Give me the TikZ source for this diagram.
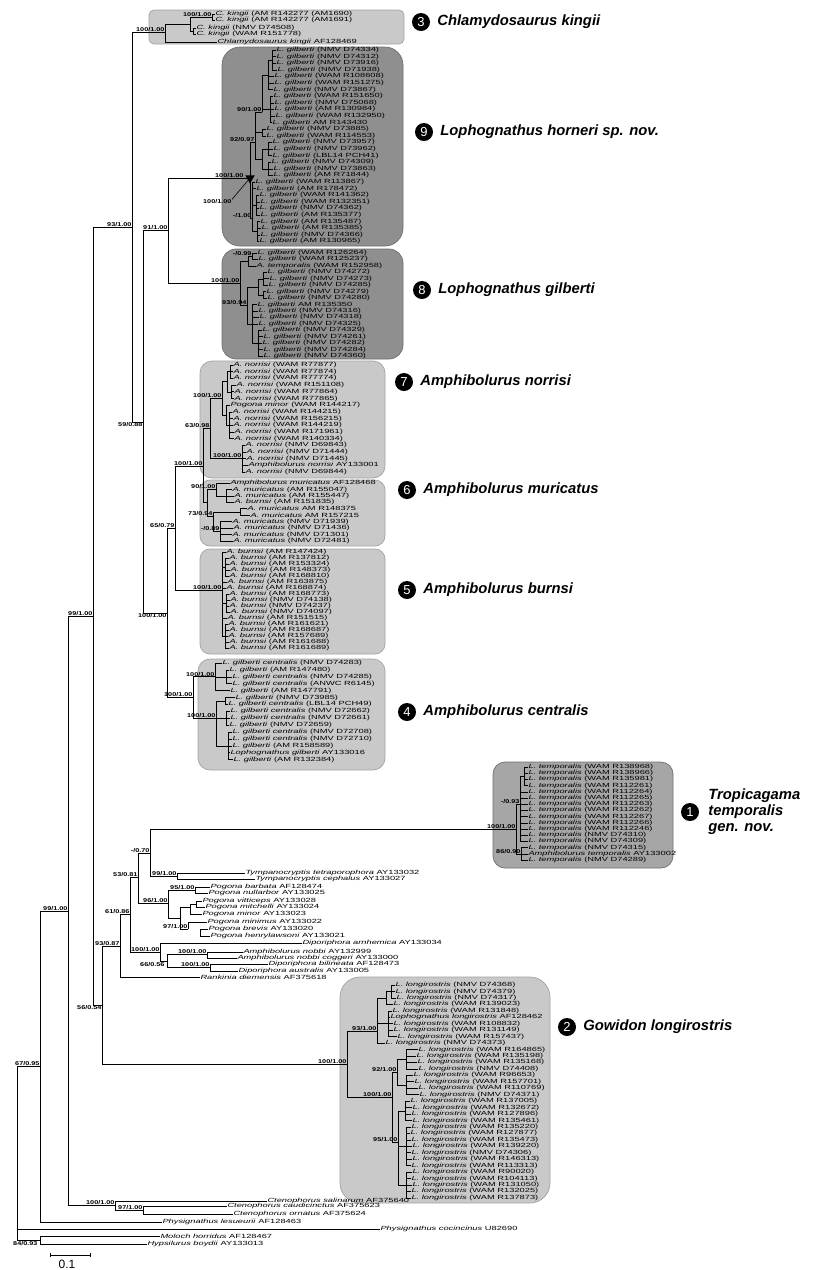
\documentclass[tikz,border=0pt]{standalone}
\usepackage{fontspec}
\setmainfont{Liberation Sans}
\newfontfamily\tipfam[FakeStretch=1.55]{Liberation Sans}
\newfontfamily\supfam[FakeStretch=1.3]{Liberation Sans}
\usetikzlibrary{positioning,shapes.geometric}
\definecolor{boxlight}{HTML}{C9C9C9}
\definecolor{boxline}{HTML}{A2A2A2}
\definecolor{boxdark}{HTML}{8F8F8F}
\definecolor{boxdarkline}{HTML}{6F6F6F}
\definecolor{boxmid}{HTML}{A6A6A6}
\newcommand\Tkin{\textit{C. kingii}}
\newcommand\Tgil{\textit{L. gilberti}}
\newcommand\Tcen{\textit{L. gilberti centralis}}
\newcommand\Tnor{\textit{A. norrisi}}
\newcommand\Tmur{\textit{A. muricatus}}
\newcommand\Tbur{\textit{A. burnsi}}
\newcommand\Ttem{\textit{L. temporalis}}
\newcommand\Tlon{\textit{L. longirostris}}
\begin{document}
\begin{tikzpicture}[x=1pt,y=-1pt,
  tip/.style={anchor=west,inner sep=0.3pt,font=\tipfam\fontsize{6}{6}\selectfont},
  sup/.style={anchor=south east,inner sep=0.3pt,font=\supfam\fontsize{5.6}{5.6}\selectfont\bfseries},
  supb/.style={sup,anchor=north east},
  num/.style={circle,fill=black,text=white,inner sep=0pt,minimum size=18pt,font=\fontsize{13}{13}\selectfont},
  taxon/.style={anchor=west,inner sep=0pt,align=left,font=\fontsize{14.8}{16}\selectfont\bfseries\itshape},
  branch/.style={line width=0.8pt},
  twig/.style={line width=0.6pt},
  lightbox/.style={fill=boxlight,draw=boxline,line width=0.7pt},
  darkbox/.style={fill=boxdark,draw=boxdarkline,line width=0.7pt},
  midbox/.style={fill=boxmid,draw=boxdarkline,line width=0.7pt}
]
\useasboundingbox (0,0) rectangle (814,1270);

\path[lightbox,rounded corners=5pt] (149,10) rectangle (404,44);
\path[darkbox,rounded corners=18pt] (222,47) rectangle (403,246);
\path[darkbox,rounded corners=14pt] (222,249) rectangle (403,359);
\path[lightbox,rounded corners=12pt] (200,361) rectangle (385,478);
\path[lightbox,rounded corners=10pt] (200,480) rectangle (385,546);
\path[lightbox,rounded corners=10pt] (200,549) rectangle (385,654);
\path[lightbox,rounded corners=12pt] (198,659) rectangle (385,770);
\path[midbox,rounded corners=12pt] (493,762) rectangle (673,868);
\path[lightbox,rounded corners=20pt] (340,977) rectangle (550,1203);

\coordinate (root) at (17,1153);
\coordinate (n67) at (40,1066);
\coordinate (n99b) at (68,911);
\coordinate (n99a) at (93,616);
\coordinate (n93) at (132,227);
\coordinate (n59) at (143,422);
\coordinate (n91) at (168,230);
\coordinate (n100c) at (167,613);
\coordinate (n65) at (175,528);
\coordinate (n100d) at (203,466);
\coordinate (ncen) at (193,697);
\coordinate (n56) at (102,1005);
\coordinate (n93b) at (120,946);
\coordinate (n61) at (130,914);
\coordinate (n53) at (138,877);
\coordinate (n70) at (150,853);
\coordinate (ntym) at (177,876);
\coordinate (npog) at (168,903);
\coordinate (ndip) at (160,952);
\coordinate (ncte) at (115,1205);
\coordinate (ncte2) at (143,1210);
\coordinate (n84) at (40,1240);

\coordinate (ch) at (165,32);
\coordinate (cha) at (190,24);
\coordinate (chb) at (212,17);
\coordinate (chc) at (193,31);

\coordinate (ho) at (250,178);
\coordinate (hoA) at (255,142);
\coordinate (hoA1) at (262,112);
\coordinate (hoA1a) at (268,75);
\coordinate (hoa1) at (272,60);
\coordinate (hoA1b) at (270,109);
\coordinate (hoP) at (262,132.5);
\coordinate (hoA2) at (262,159);
\coordinate (hoa3) at (268,149);
\coordinate (hoa4) at (268,168.8);
\coordinate (hoB) at (252,218);
\coordinate (hob1) at (256,205);
\coordinate (hob2) at (257,231.5);

\coordinate (gi) at (240,283);
\coordinate (giT) at (248,261);
\coordinate (gi99) at (252,256.2);
\coordinate (giG) at (247,305);
\coordinate (gia) at (258,287);
\coordinate (gis1) at (263,278.8);
\coordinate (gis2) at (263,294.9);
\coordinate (gib) at (252,324);
\coordinate (gis3) at (258,343);

\coordinate (no) at (210,428.5);
\coordinate (noN1) at (222,398.4);
\coordinate (noa) at (227,381.7);
\coordinate (noa1) at (230,371.7);
\coordinate (noa2) at (231,391.8);
\coordinate (nob) at (226,415);
\coordinate (nob1) at (229,425.2);
\coordinate (noN2) at (242,458.6);

\coordinate (mu) at (207,502.7);
\coordinate (muM1) at (216,489.4);
\coordinate (mum1) at (226,495.9);
\coordinate (muM2) at (213,516);
\coordinate (mum2) at (240,512);
\coordinate (mum3) at (220,531.3);

\coordinate (bu) at (222,590);
\coordinate (bus1) at (225,567);
\coordinate (bus2) at (226,603);
\coordinate (bus3) at (225,636);

\coordinate (ce1) at (215,676.8);
\coordinate (ce1a) at (226,676.8);
\coordinate (ce2) at (216,718);
\coordinate (ce2a) at (225,701);
\coordinate (ce2b) at (226,718.2);
\coordinate (ce2c) at (228,745.8);

\coordinate (tr) at (516,829);
\coordinate (tru) at (520,804.2);
\coordinate (tru1) at (524,776.3);
\coordinate (trl) at (521,853.8);

\coordinate (pa) at (195,890);
\coordinate (pb) at (180,918);
\coordinate (pc) at (190,907.5);
\coordinate (pe) at (196,904);
\coordinate (pd) at (188,929);
\coordinate (pf) at (200,932.5);
\coordinate (d1) at (167,961);
\coordinate (dam) at (207,954.5);
\coordinate (ddp) at (210,967.5);

\coordinate (go) at (347,1064);
\coordinate (go1) at (377,1031);
\coordinate (go1a) at (386,998);
\coordinate (go1s) at (391,991.5);
\coordinate (go1b) at (388,1023.7);
\coordinate (go2) at (392,1097);
\coordinate (go2a) at (397,1072.1);
\coordinate (go2a1) at (406,1059.2);
\coordinate (go2a2) at (406,1085);
\coordinate (go2b) at (398,1142);
\coordinate (go2b1) at (405,1110.8);
\coordinate (go2b2) at (406,1146.3);
\coordinate (go2b3) at (406,1185);

\node[tip] (chl) at (217,42) {\textit{Chlamydosaurus kingii} AF128469};
\node[tip] (tte) at (245,873) {\textit{Tympanocryptis tetraporophora} AY133032};
\node[tip] (tce) at (255,879) {\textit{Tympanocryptis cephalus} AY133027};
\node[tip] (darn) at (302,943) {\textit{Diporiphora arnhemica} AY133034};
\node[tip] (anob) at (243,952) {\textit{Amphibolurus nobbi} AY132999};
\node[tip] (acog) at (237,958) {\textit{Amphibolurus nobbi coggeri} AY133000};
\node[tip] (dbil) at (268,964) {\textit{Diporiphora bilineata} AF128473};
\node[tip] (daus) at (238,971) {\textit{Diporiphora australis} AY133005};
\node[tip] (rdie) at (200,977) {\textit{Rankinia diemensis} AF375618};
\node[tip] (csal) at (267,1201) {\textit{Ctenophorus salinarum} AF375640};
\node[tip] (ccau) at (227,1206) {\textit{Ctenophorus caudicinctus} AF375623};
\node[tip] (corn) at (233,1214) {\textit{Ctenophorus ornatus} AF375624};
\node[tip] (ples) at (162,1222) {\textit{Physignathus lesueurii} AF128463};
\node[tip] (pcoc) at (380,1229) {\textit{Physignathus cocincinus} U82690};
\node[tip] (mhor) at (160,1236) {\textit{Moloch horridus} AF128467};
\node[tip] (hboy) at (147,1244) {\textit{Hypsilurus boydii} AY133013};

\foreach \p/\x/\y/\t [count=\i] in {chb/215/14/{(AM R142277 (AM1690)}, chb/215/20/{(AM R142277 (AM1691)},
    chc/196/28/{(NMV D74508)}, chc/196/34/{(WAM R151778)}}
  {\node[tip] (kg-\i) at (\x,\y) {\Tkin{} \t};
   \draw[twig] (\p) |- (kg-\i.west);}

\foreach \p/\x/\t [count=\i] in {
    hoa1/276/{(NMV D74334)}, hoa1/276/{(NMV D74312)}, hoa1/276/{(NMV D73916)}, hoa1/277/{(NMV D71938)},
    hoA1a/274/{(WAM R108608)}, hoA1a/274/{(WAM R151275)}, hoA1a/273/{(NMV D73867)},
    hoA1b/273/{(WAM R151650)}, hoA1b/274/{(NMV D75068)}, hoA1b/274/{(AM R130984)}, hoA1b/275/{(WAM R132950)}, hoA1b/272/{AM R143430},
    hoP/266/{(NMV D73885)}, hoP/266/{(WAM R114553)},
    hoa3/272/{(NMV D73957)}, hoa3/273/{(NMV D73962)}, hoa3/272/{(LBL14 PCH41)},
    hoa4/271/{(NMV D74309)}, hoa4/273/{(NMV D73863)}, hoa4/273/{(AM R71844)},
    hoB/255/{(WAM R113867)}, hoB/256/{(AM R178472)},
    hob1/259/{(WAM R141362)}, hob1/260/{(WAM R132351)}, hob1/259/{(NMV D74362)}, hob1/260/{(AM R135377)},
    hob2/260/{(AM R135487)}, hob2/261/{(AM R135385)}, hob2/260/{(NMV D74366)}, hob2/259/{(AM R130965)}}
  {\node[tip] (ho-\i) at (\x,{50+6.6*(\i-1)}) {\Tgil{} \t};
   \draw[twig] (\p) |- (ho-\i.west);}

\foreach \p/\x/\t [count=\i] in {
    gi99/257/{\Tgil{} (WAM R126264)}, gi99/258/{\Tgil{} (WAM R125237)}, giT/256/{\textit{A. temporalis} (WAM R152958)},
    gis1/267/{\Tgil{} (NMV D74272)}, gis1/269/{\Tgil{} (NMV D74273)}, gis1/268/{\Tgil{} (NMV D74285)},
    gis2/266/{\Tgil{} (NMV D74279)}, gis2/267/{\Tgil{} (NMV D74280)},
    gib/257/{\Tgil{} AM R135350}, gib/258/{\Tgil{} (NMV D74316)}, gib/259/{\Tgil{} (NMV D74318)}, gib/258/{\Tgil{} (NMV D74325)},
    gis3/262/{\Tgil{} (NMV D74329)}, gis3/263/{\Tgil{} (NMV D74261)}, gis3/262/{\Tgil{} (NMV D74282)},
    gis3/263/{\Tgil{} (NMV D74284)}, gis3/263/{\Tgil{} (NMV D74360)}}
  {\node[tip] (gi-\i) at (\x,{253+6.44*(\i-1)}) {\t};
   \draw[twig] (\p) |- (gi-\i.west);}

\foreach \p/\x/\t [count=\i] in {
    noa1/233/{\Tnor{} (WAM R77877)}, noa1/233/{\Tnor{} (WAM R77874)}, noa1/233/{\Tnor{} (WAM R77774)},
    noa2/236/{\Tnor{} (WAM R151108)}, noa2/234/{\Tnor{} (WAM R77864)}, noa2/234/{\Tnor{} (WAM R77865)},
    nob/230/{\textit{Pogona minor} (WAM R144217)},
    nob1/232/{\Tnor{} (WAM R144215)}, nob1/233/{\Tnor{} (WAM R156215)}, nob1/233/{\Tnor{} (WAM R144219)},
    nob1/234/{\Tnor{} (WAM R171961)}, nob1/234/{\Tnor{} (WAM R140334)},
    noN2/245/{\Tnor{} (NMV D69843)}, noN2/246/{\Tnor{} (NMV D71444)}, noN2/246/{\Tnor{} (NMV D71445)},
    noN2/248/{\textit{Amphibolurus norrisi} AY133001}, noN2/245/{\Tnor{} (NMV D69844)}}
  {\node[tip] (no-\i) at (\x,{365+6.69*(\i-1)}) {\t};
   \draw[twig] (\p) |- (no-\i.west);}

\foreach \p/\x/\t [count=\i] in {
    muM1/230/{\textit{Amphibolurus muricatus} AF128468}, mum1/232/{\Tmur{} (AM R155047)},
    mum1/234/{\Tmur{} (AM R155447)}, mum1/234/{\textit{A. burnsi} (AM R151835)},
    mum2/247/{\Tmur{} AM R148375}, mum2/250/{\Tmur{} AM R157215},
    mum3/232/{\Tmur{} (NMV D71939)}, mum3/233/{\Tmur{} (NMV D71436)}, mum3/232/{\Tmur{} (NMV D71301)}, mum3/233/{\Tmur{} (NMV D72481)}}
  {\node[tip] (mu-\i) at (\x,{483+6.44*(\i-1)}) {\t};
   \draw[twig] (\p) |- (mu-\i.west);}

\foreach \p/\x/\t [count=\i] in {
    bu/226/{(AM R147424)}, bus1/229/{(AM R137812)}, bus1/229/{(AM R153324)}, bus1/230/{(AM R148373)}, bus1/229/{(AM R168810)},
    bu/227/{(AM R163875)}, bu/226/{(AM R168874)}, bus2/229/{(AM R168773)}, bus2/230/{(NMV D74138)}, bus2/229/{(NMV D74237)},
    bus2/230/{(NMV D74097)}, bu/227/{(AM R151515)}, bus3/228/{(AM R161621)}, bus3/229/{(AM R168687)}, bus3/228/{(AM R157689)},
    bus3/229/{(AM R161688)}, bus3/229/{(AM R161689)}}
  {\node[tip] (bu-\i) at (\x,{552+6*(\i-1)}) {\Tbur{} \t};
   \draw[twig] (\p) |- (bu-\i.west);}

\foreach \p/\x/\t [count=\i] in {
    ce1/222/{\Tcen{} (NMV D74283)}, ce1a/229/{\Tgil{} (AM R147480)}, ce1a/232/{\Tcen{} (NMV D74285)},
    ce1a/232/{\Tcen{} (ANWC R6145)}, ce1/230/{\Tgil{} (AM R147791)},
    ce2a/235/{\Tgil{} (NMV D73985)}, ce2a/228/{\Tcen{} (LBL14 PCH49)},
    ce2b/230/{\Tcen{} (NMV D72662)}, ce2b/230/{\Tcen{} (NMV D72661)}, ce2b/229/{\Tgil{} (NMV D72659)},
    ce2c/232/{\Tcen{} (NMV D72708)}, ce2c/232/{\Tcen{} (NMV D72710)}, ce2c/232/{\Tgil{} (AM R158589)},
    ce2c/230/{\textit{Lophognathus gilberti} AY133016}, ce2c/233/{\Tgil{} (AM R132384)}}
  {\node[tip] (ce-\i) at (\x,{663+6.9*(\i-1)}) {\t};
   \draw[twig] (\p) |- (ce-\i.west);}

\foreach \p/\t [count=\i] in {
    tru1/{\Ttem{} (WAM R138968)}, tru1/{\Ttem{} (WAM R138966)}, tru1/{\Ttem{} (WAM R135981)}, tru1/{\Ttem{} (WAM R112261)},
    tru/{\Ttem{} (WAM R112264)}, tru/{\Ttem{} (WAM R112265)}, tru/{\Ttem{} (WAM R112263)}, tru/{\Ttem{} (WAM R112262)},
    tru/{\Ttem{} (WAM R112267)}, tru/{\Ttem{} (WAM R112266)}, tru/{\Ttem{} (WAM R112246)}, tru/{\Ttem{} (NMV D74310)},
    tru/{\Ttem{} (NMV D74309)}, trl/{\Ttem{} (NMV D74315)}, trl/{\textit{Amphibolurus temporalis} AY133002},
    trl/{\Ttem{} (NMV D74289)}}
  {\node[tip] (tr-\i) at (528,{767+6.2*(\i-1)}) {\t};
   \draw[twig] (\p) |- (tr-\i.west);}

\foreach \p/\x/\t [count=\i] in {
    go1s/395/{\Tlon{} (NMV D74368)}, go1s/395/{\Tlon{} (NMV D74379)}, go1s/396/{\Tlon{} (NMV D74317)},
    go1a/393/{\Tlon{} (WAM R139023)}, go1b/392/{\Tlon{} (WAM R131848)},
    go1b/390/{\textit{Lophognathus longirostris} AF128462}, go1b/393/{\Tlon{} (WAM R108832)},
    go1b/393/{\Tlon{} (WAM R131149)}, go1b/397/{\Tlon{} (WAM R157437)}, go1/385/{\Tlon{} (NMV D74373)},
    go2a1/418/{\Tlon{} (WAM R164865)}, go2a1/416/{\Tlon{} (WAM R135198)}, go2a1/417/{\Tlon{} (WAM R135168)},
    go2a1/418/{\Tlon{} (NMV D74408)}, go2a2/413/{\Tlon{} (WAM R96653)}, go2a2/414/{\Tlon{} (WAM R157701)},
    go2a2/418/{\Tlon{} (WAM R110769)}, go2a2/419/{\Tlon{} (NMV D74371)},
    go2b1/410/{\Tlon{} (WAM R137005)}, go2b1/412/{\Tlon{} (WAM R132672)}, go2b1/411/{\Tlon{} (WAM R127896)},
    go2b1/412/{\Tlon{} (WAM R135461)}, go2b2/411/{\Tlon{} (WAM R135220)}, go2b2/410/{\Tlon{} (WAM R127877)},
    go2b2/411/{\Tlon{} (WAM R135473)}, go2b2/412/{\Tlon{} (WAM R139220)}, go2b2/411/{\Tlon{} (NMV D74306)},
    go2b2/412/{\Tlon{} (WAM R146313)}, go2b2/411/{\Tlon{} (WAM R113313)}, go2b3/412/{\Tlon{} (WAM R90020)},
    go2b3/411/{\Tlon{} (WAM R104113)}, go2b3/412/{\Tlon{} (WAM R131050)}, go2b3/411/{\Tlon{} (WAM R132025)},
    go2b3/411/{\Tlon{} (WAM R137873)}}
  {\node[tip] (go-\i) at (\x,{985+6.45*(\i-1)}) {\t};
   \draw[twig] (\p) |- (go-\i.west);}

\foreach \p/\x/\y/\s/\a in {pa/210/887/barbata/AF128474, pa/208/893/nullarbor/AY133025,
    pe/202/901/vitticeps/AY133028, pe/205/907/mitchelli/AY133024, pc/202/914/minor/AY133023,
    pd/207/922/minimus/AY133022, pf/208/929/brevis/AY133020, pf/210/936/henrylawsoni/AY133021}
  {\node[tip] (pog-\s) at (\x,\y) {\textit{Pogona \s} \a};
   \draw[twig] (\p) |- (pog-\s.west);}

\draw[branch] (root) |- (n67) (root) |- (pcoc.west) (root) |- (n84)
  (n67) |- (n99b) (n67) |- (ples.west)
  (n99b) |- (n99a) (n99b) |- (ncte)
  (n99a) |- (n93) (n99a) |- (n56)
  (n93) |- (ch) (n93) |- (n59)
  (n59) |- (n91) (n59) |- (n100c)
  (n91) |- (ho) (n91) |- (gi)
  (n100c) |- (n65) (n100c) |- (ncen)
  (n65) |- (n100d) (n65) |- (bu)
  (n100d) |- (no) (n100d) |- (mu)
  (ncen) |- (ce1) (ncen) |- (ce2)
  (n56) |- (n93b) (n56) |- (go)
  (n93b) |- (n61) (n93b) |- (rdie.west)
  (n61) |- (n53) (n61) |- (ndip)
  (n53) |- (n70) (n53) |- (npog)
  (n70) |- (tr) (n70) |- (ntym)
  (ncte) |- (csal.west) (ncte) |- (ncte2)
  (ncte2) |- (ccau.west) (ncte2) |- (corn.west)
  (n84) |- (mhor.west) (n84) |- (hboy.west);
\draw[twig] (ntym) |- (tte.west) (ntym) |- (tce.west)
  (npog) |- (pa) (npog) |- (pb) (pb) |- (pc) (pb) |- (pd) (pc) |- (pe)
  (ndip) |- (darn.west) (ndip) |- (d1) (d1) |- (dam) (d1) |- (ddp)
  (dam) |- (anob.west) (dam) |- (acog.west) (ddp) |- (dbil.west) (ddp) |- (daus.west);
\draw[twig] (ch) |- (cha) (ch) |- (chl.west) (cha) |- (chb) (cha) |- (chc);
\draw[twig] (ho) |- (hoA) (ho) |- (hoB) (hoA) |- (hoA1) (hoA) |- (hoP) (hoA) |- (hoA2)
  (hoA1) |- (hoA1a) (hoA1) |- (hoA1b) (hoA1a) |- (hoa1) (hoA2) |- (hoa3) (hoA2) |- (hoa4)
  (hoB) |- (hob1) (hoB) |- (hob2);
\draw[twig] (gi) |- (giT) (gi) |- (giG) (giT) |- (gi99) (giG) |- (gia) (giG) |- (gib)
  (gia) |- (gis1) (gia) |- (gis2) (gib) |- (gis3);
\draw[twig] (no) |- (noN1) (no) |- (noN2) (noN1) |- (noa) (noN1) |- (nob)
  (noa) |- (noa1) (noa) |- (noa2) (nob) |- (nob1);
\draw[twig] (mu) |- (muM1) (mu) |- (muM2) (muM1) |- (mum1) (muM2) |- (mum2) (muM2) |- (mum3);
\draw[twig] (bu) |- (bus1) (bu) |- (bus2) (bu) |- (bus3);
\draw[twig] (ce1) |- (ce1a) (ce2) |- (ce2a) (ce2) |- (ce2b) (ce2) |- (ce2c);
\draw[twig] (tr) |- (tru) (tr) |- (trl) (tru) |- (tru1);
\draw[twig] (go) |- (go1) (go) |- (go2) (go1) |- (go1a) (go1) |- (go1b) (go1a) |- (go1s)
  (go2) |- (go2a) (go2) |- (go2b) (go2a) |- (go2a1) (go2a) |- (go2a2)
  (go2b) |- (go2b1) (go2b) |- (go2b2) (go2b) |- (go2b3);

\node[regular polygon,regular polygon sides=3,shape border rotate=180,fill=black,inner sep=0pt,minimum size=11pt] (tri9) at (ho) {};

\node[sup] (l3) at (ch) {100/1.00};
\node[sup] (l3b) at (chb) {100/1.00};
\node[sup] (l93) at (n93) {93/1.00};
\node[supb] (l59) at (n59) {59/0.88};
\node[sup] (l91) at (n91) {91/1.00};
\node[sup] (l9) at (244,178) {100/1.00};
\node[sup,anchor=east] (l9b) at (232,202) {100/1.00};
\draw[twig] (l9b.north east) -- (tri9);
\node[sup] (lhoA) at (hoA) {92/0.97};
\node[sup] (lhoA1) at (hoA1) {90/1.00};
\node[sup] (lhoB) at (hoB) {-/1.00};
\node[sup] (l8) at (gi) {100/1.00};
\node[sup] (lgi99) at (gi99) {-/0.99};
\node[sup] (lgiG) at (giG) {93/0.94};
\node[sup] (l99a) at (n99a) {99/1.00};
\node[supb] (l100c) at (n100c) {100/1.00};
\node[sup] (l65) at (n65) {65/0.79};
\node[sup] (l100d) at (n100d) {100/1.00};
\node[sup] (l7) at (no) {63/0.98};
\node[sup] (lnoN1) at (noN1) {100/1.00};
\node[sup] (lnoN2) at (noN2) {100/1.00};
\node[sup] (lmuM1) at (muM1) {90/1.00};
\node[sup] (lmuM2) at (muM2) {73/0.94};
\node[sup] (lmum3) at (mum3) {-/0.89};
\node[sup] (l5) at (bu) {100/1.00};
\node[sup] (lcen) at (ncen) {100/1.00};
\node[sup] (lce1) at (ce1) {100/1.00};
\node[sup] (lce2) at (ce2) {100/1.00};
\node[sup] (l99b) at (n99b) {99/1.00};
\node[sup] (l67) at (n67) {67/0.95};
\node[supb] (l56) at (n56) {56/0.54};
\node[sup] (l93b) at (n93b) {93/0.87};
\node[sup] (l61) at (n61) {61/0.86};
\node[sup] (l53) at (n53) {53/0.81};
\node[sup] (l70) at (n70) {-/0.70};
\node[sup] (ltym) at (ntym) {99/1.00};
\node[sup] (lpog) at (npog) {96/1.00};
\node[sup] (lpa) at (pa) {95/1.00};
\node[sup] (lpd) at (pd) {97/1.00};
\node[sup] (ldip) at (ndip) {100/1.00};
\node[supb] (ld1) at (165,962) {66/0.56};
\node[sup] (ldam) at (dam) {100/1.00};
\node[sup] (lddp) at (ddp) {100/1.00};
\node[sup] (l1) at (tr) {100/1.00};
\node[sup] (ltru) at (tru) {-/0.93};
\node[sup] (ltrl) at (trl) {86/0.90};
\node[sup] (l2) at (go) {100/1.00};
\node[sup] (lgo1) at (go1) {93/1.00};
\node[sup] (lgo2) at (go2) {100/1.00};
\node[sup] (lgo2a) at (go2a) {92/1.00};
\node[sup] (lgo2b) at (go2b) {95/1.00};
\node[sup] (lcte) at (ncte) {100/1.00};
\node[sup] (lcte2) at (ncte2) {97/1.00};
\node[supb] (l84) at (38,1241) {84/0.93};

\node[num] (k3) at (421,22) {3};
\node[taxon,right=7pt of k3] (t3) {Chlamydosaurus kingii};
\node[num] (k9) at (424,132) {9};
\node[taxon,right=7pt of k9] (t9) {Lophognathus horneri sp. nov.};
\node[num] (k8) at (422,290) {8};
\node[taxon,right=7pt of k8] (t8) {Lophognathus gilberti};
\node[num] (k7) at (404,382) {7};
\node[taxon,right=7pt of k7] (t7) {Amphibolurus norrisi};
\node[num] (k6) at (407,490) {6};
\node[taxon,right=7pt of k6] (t6) {Amphibolurus muricatus};
\node[num] (k5) at (407,590) {5};
\node[taxon,right=7pt of k5] (t5) {Amphibolurus burnsi};
\node[num] (k4) at (407,712) {4};
\node[taxon,right=7pt of k4] (t4) {Amphibolurus centralis};
\node[num] (k1) at (690,812) {1};
\node[taxon,right=9pt of k1] (t1) {Tropicagama\\temporalis\\gen. nov.};
\node[num] (k2) at (567,1027) {2};
\node[taxon,right=7pt of k2] (t2) {Gowidon longirostris};

\coordinate (sb1) at (50,1255);
\coordinate (sb2) at (90,1255);
\draw[branch] (sb1) -- (sb2);
\draw[twig] (sb1) ++(0,-2) -- ++(0,4) (sb2) ++(0,-2) -- ++(0,4);
\node[font=\fontsize{12}{12}\selectfont] (sbl) at (67,1264) {0.1};
\end{tikzpicture}
\end{document}
